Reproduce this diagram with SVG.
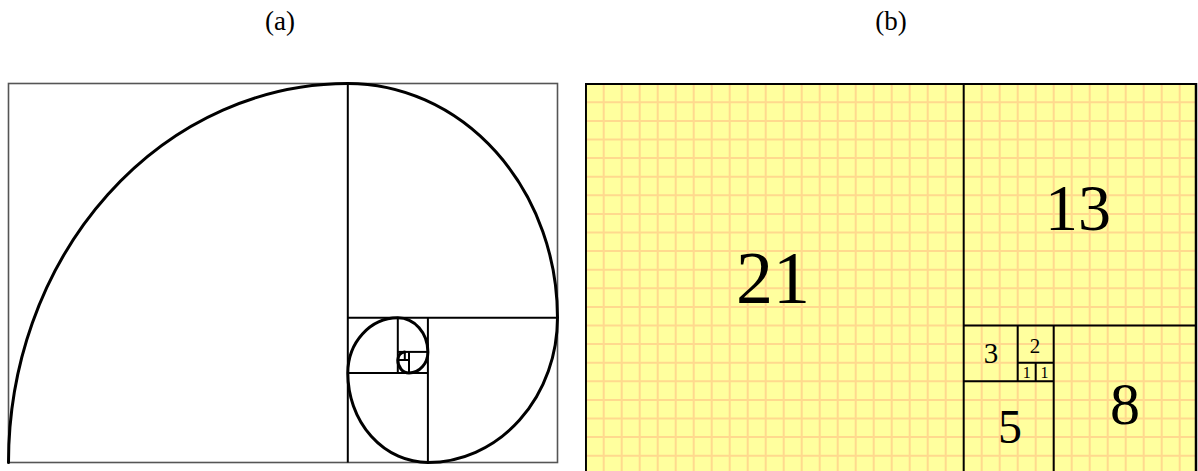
<svg xmlns="http://www.w3.org/2000/svg" width="1198" height="471" viewBox="0 0 1198 471">
<style>
.cap{font-family:"Liberation Serif","Times New Roman",serif;font-size:27px;fill:#000;text-anchor:middle}
.num{font-family:"Liberation Serif","Times New Roman",serif;fill:#000;text-anchor:middle}
.sq{stroke:#000;stroke-width:2;fill:none}
.sp{stroke:#000;stroke-width:3;fill:none;stroke-linecap:round}
.grid{stroke:#FFD98E;stroke-width:2}
.bd{stroke:#000;stroke-width:2.5;fill:none}
</style>
<defs>
<clipPath id="clipB"><rect x="585" y="83" width="613" height="388"/></clipPath>
</defs>
<rect width="1198" height="471" fill="#fff"/>
<text class="cap" x="280" y="30">(a)</text>
<text class="cap" x="891" y="30">(b)</text>

<g id="panel-a">
  <rect x="8.5" y="83.5" width="549" height="379" fill="#fff" stroke="#555" stroke-width="1.6"/>
  <g id="a-squares" class="sq">
    <line x1="347.8" y1="83.5" x2="347.8" y2="462.5"/>
    <line x1="347.8" y1="317.7" x2="557.5" y2="317.7"/>
    <line x1="427.9" y1="317.7" x2="427.9" y2="462.5"/>
    <line x1="347.8" y1="373" x2="427.9" y2="373"/>
    <line x1="397.8" y1="317.7" x2="397.8" y2="373"/>
    <line x1="397.8" y1="351.9" x2="427.9" y2="351.9"/>
    <line x1="409" y1="351.9" x2="409" y2="373"/>
    <line x1="397.8" y1="360" x2="409" y2="360"/>
    <line x1="404.8" y1="351.9" x2="404.8" y2="360"/>
  </g>
  <path id="a-spiral" class="sp" d="M 8.5 462.5 A 339.3 379 0 0 1 347.8 83.5 A 209.7 234.2 0 0 1 557.5 317.7 A 129.6 144.8 0 0 1 427.9 462.5 A 80.1 89.5 0 0 1 347.8 373 A 50 55.3 0 0 1 397.8 317.7 A 30.1 34.2 0 0 1 427.9 351.9 A 18.9 21.1 0 0 1 409 373 A 11.2 13 0 0 1 397.8 360 A 7 8.1 0 0 1 404.8 351.9"/>
</g>

<g id="panel-b">
  <g clip-path="url(#clipB)">
    <rect x="585.7" y="83.7" width="611" height="388" fill="#FFFF9E"/>
    <g id="b-grid" class="grid">
      <line x1="603.7" y1="83.7" x2="603.7" y2="471"/>
      <line x1="621.7" y1="83.7" x2="621.7" y2="471"/>
      <line x1="639.7" y1="83.7" x2="639.7" y2="471"/>
      <line x1="657.7" y1="83.7" x2="657.7" y2="471"/>
      <line x1="675.7" y1="83.7" x2="675.7" y2="471"/>
      <line x1="693.7" y1="83.7" x2="693.7" y2="471"/>
      <line x1="711.7" y1="83.7" x2="711.7" y2="471"/>
      <line x1="729.7" y1="83.7" x2="729.7" y2="471"/>
      <line x1="747.7" y1="83.7" x2="747.7" y2="471"/>
      <line x1="765.7" y1="83.7" x2="765.7" y2="471"/>
      <line x1="783.7" y1="83.7" x2="783.7" y2="471"/>
      <line x1="801.7" y1="83.7" x2="801.7" y2="471"/>
      <line x1="819.7" y1="83.7" x2="819.7" y2="471"/>
      <line x1="837.7" y1="83.7" x2="837.7" y2="471"/>
      <line x1="855.7" y1="83.7" x2="855.7" y2="471"/>
      <line x1="873.7" y1="83.7" x2="873.7" y2="471"/>
      <line x1="891.7" y1="83.7" x2="891.7" y2="471"/>
      <line x1="909.7" y1="83.7" x2="909.7" y2="471"/>
      <line x1="927.7" y1="83.7" x2="927.7" y2="471"/>
      <line x1="945.7" y1="83.7" x2="945.7" y2="471"/>
      <line x1="981.7" y1="83.7" x2="981.7" y2="471"/>
      <line x1="999.7" y1="83.7" x2="999.7" y2="471"/>
      <line x1="1017.7" y1="83.7" x2="1017.7" y2="471"/>
      <line x1="1035.7" y1="83.7" x2="1035.7" y2="471"/>
      <line x1="1053.7" y1="83.7" x2="1053.7" y2="471"/>
      <line x1="1071.7" y1="83.7" x2="1071.7" y2="471"/>
      <line x1="1089.7" y1="83.7" x2="1089.7" y2="471"/>
      <line x1="1107.7" y1="83.7" x2="1107.7" y2="471"/>
      <line x1="1125.7" y1="83.7" x2="1125.7" y2="471"/>
      <line x1="1143.7" y1="83.7" x2="1143.7" y2="471"/>
      <line x1="1161.7" y1="83.7" x2="1161.7" y2="471"/>
      <line x1="1179.7" y1="83.7" x2="1179.7" y2="471"/>
      <line x1="585.7" y1="102.3" x2="1196" y2="102.3"/>
      <line x1="585.7" y1="120.9" x2="1196" y2="120.9"/>
      <line x1="585.7" y1="139.5" x2="1196" y2="139.5"/>
      <line x1="585.7" y1="158.1" x2="1196" y2="158.1"/>
      <line x1="585.7" y1="176.7" x2="1196" y2="176.7"/>
      <line x1="585.7" y1="195.3" x2="1196" y2="195.3"/>
      <line x1="585.7" y1="213.9" x2="1196" y2="213.9"/>
      <line x1="585.7" y1="232.5" x2="1196" y2="232.5"/>
      <line x1="585.7" y1="251.1" x2="1196" y2="251.1"/>
      <line x1="585.7" y1="269.7" x2="1196" y2="269.7"/>
      <line x1="585.7" y1="288.3" x2="1196" y2="288.3"/>
      <line x1="585.7" y1="306.9" x2="1196" y2="306.9"/>
      <line x1="585.7" y1="325.5" x2="1196" y2="325.5"/>
      <line x1="585.7" y1="344.1" x2="1196" y2="344.1"/>
      <line x1="585.7" y1="362.7" x2="1196" y2="362.7"/>
      <line x1="585.7" y1="381.3" x2="1196" y2="381.3"/>
      <line x1="585.7" y1="399.9" x2="1196" y2="399.9"/>
      <line x1="585.7" y1="418.5" x2="1196" y2="418.5"/>
      <line x1="585.7" y1="437.1" x2="1196" y2="437.1"/>
      <line x1="585.7" y1="455.7" x2="1196" y2="455.7"/>
    </g>
    <g id="b-border" class="bd">
      <polyline points="585.7,471 585.7,83.7 1196,83.7 1196,471"/>
    </g>
    <g id="b-squares" class="sq">
      <line x1="963.7" y1="83.7" x2="963.7" y2="471"/>
      <line x1="963.7" y1="325.5" x2="1196" y2="325.5"/>
      <line x1="1053.7" y1="325.5" x2="1053.7" y2="471"/>
      <line x1="963.7" y1="381.3" x2="1053.7" y2="381.3"/>
      <line x1="1017.7" y1="325.5" x2="1017.7" y2="381.3"/>
      <line x1="1017.7" y1="362.7" x2="1053.7" y2="362.7"/>
      <line x1="1035.7" y1="362.7" x2="1035.7" y2="381.3"/>
    </g>
  </g>
  <g id="sq21"><text class="num" x="773" y="303" font-size="74">21</text></g>
  <g id="sq13"><text class="num" x="1078" y="230" font-size="66">13</text></g>
  <g id="sq8"><text class="num" x="1125" y="424" font-size="60">8</text></g>
  <g id="sq5"><text class="num" x="1010" y="443" font-size="48">5</text></g>
  <g id="sq3"><text class="num" x="991" y="363" font-size="29">3</text></g>
  <g id="sq2"><text class="num" x="1035" y="353" font-size="21">2</text></g>
  <g id="sq1a"><text class="num" x="1026.7" y="377.8" font-size="16">1</text></g>
  <g id="sq1b"><text class="num" x="1044.5" y="377.8" font-size="16">1</text></g>
</g>
</svg>
